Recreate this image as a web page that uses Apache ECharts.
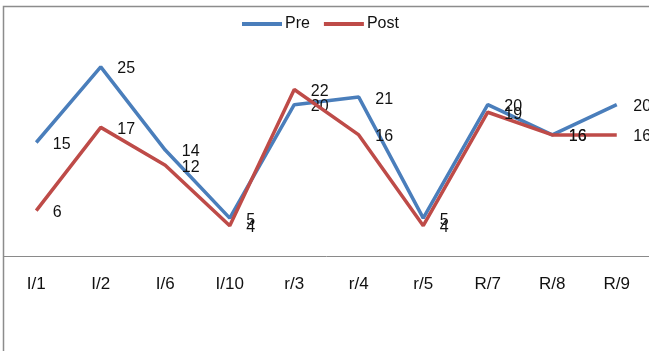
<!DOCTYPE html>
<html>
<head>
<meta charset="utf-8">
<script src="https://cdn.jsdelivr.net/npm/echarts@6/dist/echarts.min.js"></script>
<style>
  html, body { margin: 0; padding: 0; background: #fff; }
  #chart { width: 649px; height: 351px; }
</style>
</head>
<body>
<div id="chart"></div>
<script>
// Categories along the x axis
const categories = ['I/1', 'I/2', 'I/6', 'I/10', 'r/3', 'r/4', 'r/5', 'R/7', 'R/8', 'R/9'];
// Scores before and after
const preValues = [15, 25, 14, 5, 20, 21, 5, 20, 16, 20];
const postValues = [6, 17, 12, 4, 22, 16, 4, 19, 16, 16];

const FONT = 'Liberation Sans, Arial, sans-serif';
const PRE_COLOR = '#4a7ebb';
const POST_COLOR = '#be4b48';

function lineSeries(name, data, color) {
  return {
    name: name,
    type: 'line',
    data: data,
    symbol: 'circle',
    symbolSize: 1,
    showSymbol: true,
    itemStyle: { color: 'rgba(0,0,0,0)' },
    lineStyle: { color: color, width: 3.5 },
    emphasis: { disabled: true },
    label: {
      show: true,
      position: 'right',
      distance: 16,
      offset: [0, 2],
      color: '#111',
      fontSize: 16,
      fontFamily: FONT
    },
    z: name === 'Pre' ? 2 : 3,
    animation: false
  };
}

const chart = echarts.init(document.getElementById('chart'), null, { renderer: 'canvas' });
chart.setOption({
  backgroundColor: '#fff',
  animation: false,
  legend: {
    top: 11,
    left: 237,
    itemWidth: 40,
    itemHeight: 4,
    itemGap: 14,
    icon: 'rect',
    textStyle: { fontSize: 16, color: '#111', fontFamily: FONT, padding: [0, 0, 0, -2] },
    data: [
      { name: 'Pre', itemStyle: { color: PRE_COLOR } },
      { name: 'Post', itemStyle: { color: POST_COLOR } }
    ]
  },
  grid: { left: 4, right: 0, top: 29, bottom: 95, containLabel: false },
  xAxis: {
    type: 'category',
    data: categories,
    boundaryGap: true,
    axisLine: { lineStyle: { color: '#8a8a8a', width: 1 } },
    axisTick: { show: false },
    axisLabel: { color: '#111', fontSize: 17, fontFamily: FONT, margin: 20 }
  },
  yAxis: {
    type: 'value',
    min: 0,
    max: 30,
    interval: 5,
    show: false,
    splitLine: { show: false }
  },
  graphic: [{
    type: 'rect',
    shape: { x: 3.5, y: 6.5, width: 700, height: 400 },
    style: { fill: 'none', stroke: '#8c8c8c', lineWidth: 1.5 },
    silent: true,
    z: -1
  }],
  series: [
    lineSeries('Pre', preValues, PRE_COLOR),
    lineSeries('Post', postValues, POST_COLOR)
  ]
});
</script>
</body>
</html>
